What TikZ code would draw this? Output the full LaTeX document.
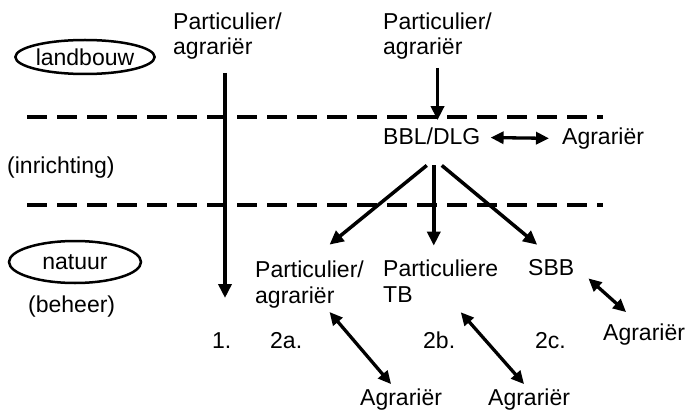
\documentclass[tikz,border=0pt]{standalone}
\usepackage{fontspec}
\setmainfont{Liberation Sans}
\usetikzlibrary{arrows.meta,shapes.geometric}

\begin{document}
\begin{tikzpicture}[x=1pt,y=-1pt,
		every node/.style={inner sep=0,font=\fontsize{23}{25.5}\selectfont},
		label/.style={anchor=base west,align=left},
		field/.style={ellipse,draw,line width=2.5},
		divider/.style={line width=4.5,dash pattern=on 20 off 10},
		bigarrow/.style={line width=3.5,-{Triangle[length=14,width=13]}},
		twoway/.style={line width=3.3,{Triangle[length=13,width=12]}-{Triangle[length=13,width=12]}}]
	\useasboundingbox (0,0) rectangle (687,414);
	% zones
	\node[field,minimum width=132,minimum height=34] (landbouw) at (85,57) {landbouw};
	\node[field,minimum width=132,minimum height=42] (natuur) at (75,262) {natuur};
	\node[label] (inrichting) at (7,174) {(inrichting)};
	\node[label] (beheer) at (28,312) {(beheer)};
	\draw[divider] (27,117) -- (603,117);
	\draw[divider] (27,205) -- (603,205);
	% actors (multi-line labels sit on their last line)
	\node[label] (part1) at (173,55) {Particulier/\\agrariër};
	\node[label] (part2) at (383,55) {Particulier/\\agrariër};
	\node[label] (bbl) at (383,145) {BBL/DLG};
	\node[label] (agr1) at (562,145) {Agrariër};
	\node[label] (parta) at (255,303) {Particulier/\\agrariër};
	\node[label] (partb) at (383,302) {Particuliere\\TB};
	\node[label] (sbb) at (528,275) {SBB};
	\node[label] (agr2) at (603,340) {Agrariër};
	\node[label] (agr3) at (360,405) {Agrariër};
	\node[label] (agr4) at (488,405) {Agrariër};
	% route numbers
	\node[label] (r1) at (212,348) {1.};
	\node[label] (r2a) at (270,348) {2a.};
	\node[label] (r2b) at (423,348) {2b.};
	\node[label] (r2c) at (535,348) {2c.};
	% connectors
	\coordinate (end1) at (225,298);
	\coordinate (fork) at ([yshift=-20]bbl.south);
	\draw[bigarrow] (part1.south -| end1) ++(0,13) -- (end1);
	\draw[bigarrow,shorten <=8,shorten >=8] (part2.south) -- (part2.south |- bbl.north);
	\draw[twoway,shorten <=10,shorten >=13] (bbl) -- (agr1);
	\draw[bigarrow] ([xshift=-5]fork) -- ([shift={(20,-16)}]parta.north);
	\draw[bigarrow] ([xshift=2]fork) -- ([shift={(2,-14)}]fork |- partb.north);
	\draw[bigarrow] ([xshift=10]fork) -- ([shift={(-14,-14)}]sbb.north);
	\draw[twoway] ([shift={(14,3)}]sbb.south east) -- ([shift={(-18,-11)}]agr2.north);
	\draw[twoway] ([shift={(20,4)}]parta.south) -- ([shift={(-10,-4)}]agr3.north);
	\draw[twoway] ([shift={(20,10)}]partb.south) -- ([shift={(-5,-4)}]agr4.north);
\end{tikzpicture}
\end{document}
